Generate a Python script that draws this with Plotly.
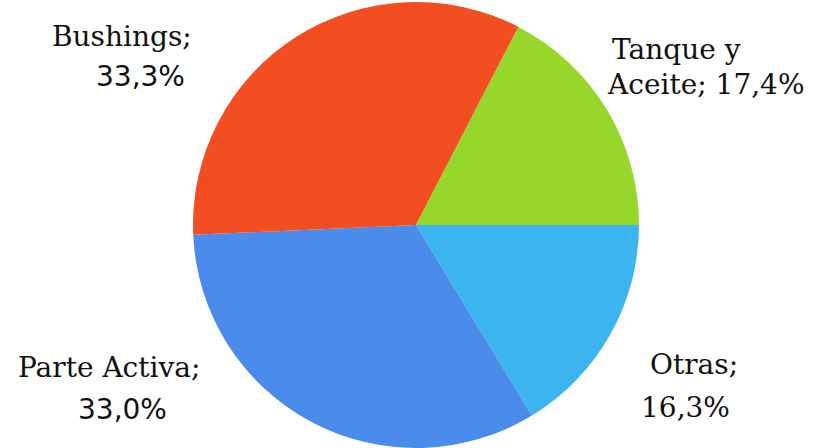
import plotly.graph_objects as go

labels = ["Otras", "Parte Activa", "Bushings", "Tanque y Aceite"]
values = [16.3, 33.0, 33.3, 17.4]
colors = ["#3CB4F0", "#4B8BEA", "#F24E22", "#97D62A"]

W, H = 813, 448
R = 223
CX = 416

def pct(v):
    return f"{v:.1f}".replace(".", ",") + "%"

fig = go.Figure(go.Pie(
    labels=labels, values=values, sort=False,
    direction="clockwise", rotation=90,
    marker=dict(colors=colors, line=dict(width=0)),
    textinfo="none", hoverinfo="label+percent",
    domain=dict(x=[(CX - R) / W, (CX + R) / W], y=[0, 2 * R / H]),
    showlegend=False,
))

serif = "DejaVu Serif"
sans = "DejaVu Sans"

# (text, center x px, middle y px, font)
lines = [
    (labels[2] + ";", 122, 36, serif),
    (pct(values[2]), 140, 76, sans),
    ("Tanque y", 676, 49, serif),
    ("Aceite; " + pct(values[3]), 706, 84, serif),
    (labels[1] + ";", 109, 367, serif),
    (pct(values[1]), 122, 409, sans),
    (labels[0] + ";", 694, 364, serif),
    (pct(values[0]), 685, 407, serif),
]

for txt, cx, cy, fam in lines:
    fig.add_annotation(
        text=txt, x=cx / W, y=1 - cy / H, xref="paper", yref="paper",
        xanchor="center", yanchor="middle", showarrow=False,
        font=dict(family=fam, size=28, color="#111111"),
    )

fig.update_layout(
    width=W, height=H, margin=dict(l=0, r=0, t=0, b=0),
    paper_bgcolor="white", plot_bgcolor="white",
)

fig.write_html("out.html")
